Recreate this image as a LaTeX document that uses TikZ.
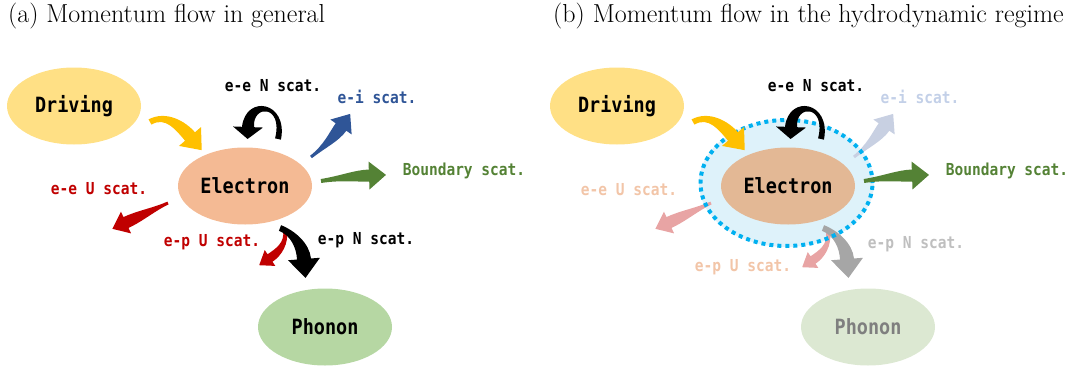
\documentclass[tikz,border=0pt]{standalone}
\usepackage{fontspec}
\usetikzlibrary{calc,shapes.geometric}
\newfontfamily\lbl[FakeStretch=0.88]{DejaVu Sans Mono}
\definecolor{drv}{HTML}{FFE085}
\definecolor{ele}{HTML}{F4BA94}
\definecolor{pho}{HTML}{B6D7A3}
\definecolor{eleB}{HTML}{E3B895}
\definecolor{phoB}{HTML}{DCE8D2}
\definecolor{phoTxtB}{HTML}{7F7F7F}
\definecolor{yel}{HTML}{FFC000}
\definecolor{blu}{HTML}{2F5597}
\definecolor{grn}{HTML}{548235}
\definecolor{rd}{HTML}{C00000}
\definecolor{paleblu}{HTML}{C8D0E2}
\definecolor{palebluTxt}{HTML}{C3D0E8}
\definecolor{pink}{HTML}{E8A4A4}
\definecolor{peach}{HTML}{F2C5A8}
\definecolor{grayA}{HTML}{A6A6A6}
\definecolor{grayTxt}{HTML}{BFBFBF}
\definecolor{cyanDot}{HTML}{00B0F0}
\definecolor{lightblue}{HTML}{DEF2FA}
% #1 style, #2 tail, #3 ctrl1, #4 ctrl2, #5 head base, #6 tail half-width,
% #7 shaft half-width at head, #8 head half-width, #9 head length
\newcommand\blockarrow[9]{%
  \path ($(#2)!#6!90:(#3)$) coordinate (ba-tl)
        ($(#2)!#6!-90:(#3)$) coordinate (ba-tr)
        ($(#2)!#6!90:(#4)$) coordinate (ba-ul)
        ($(#2)!#6!-90:(#4)$) coordinate (ba-ur)
        ($(#3)!#7!90:(#5)$) coordinate (ba-vl)
        ($(#3)!#7!-90:(#5)$) coordinate (ba-vr)
        ($(#5)!#7!-90:(#4)$) coordinate (ba-hl)
        ($(#5)!#7!90:(#4)$) coordinate (ba-hr)
        ($(#5)!#8!-90:(#4)$) coordinate (ba-kl)
        ($(#5)!#8!90:(#4)$) coordinate (ba-kr)
        ($(#5)!#9!180:(#4)$) coordinate (ba-tip);
  \fill[#1] (ba-tl) .. controls ($(#3)+(ba-ul)-(#2)$) and ($(#4)+(ba-vl)-(#3)$) .. (ba-hl)
     -- (ba-kl) -- (ba-tip) -- (ba-kr) -- (ba-hr)
     .. controls ($(#4)+(ba-vr)-(#3)$) and ($(#3)+(ba-ur)-(#2)$) .. (ba-tr) -- cycle;
}
\tikzset{
  ell/.style={ellipse, inner sep=0pt, minimum width=134pt, minimum height=77pt},
  big/.style={font=\lbl\bfseries\fontsize{21}{24}\selectfont},
  small/.style={font=\lbl\bfseries\fontsize{16.5}{19}\selectfont},
  ttl/.style={anchor=base west, inner sep=0pt, font=\fontsize{26}{30}\selectfont},
}
\begin{document}
\begin{tikzpicture}[x=1pt,y=-1pt]
\useasboundingbox (0,0) rectangle (1079,367);
% titles
\node[ttl] (ta) at (8,22) {(a) Momentum flow in general};
\node[ttl] (tb) at (553,22) {(b) Momentum flow in the hydrodynamic regime};

% ---------------- panel (a)
\node[ell, fill=ele, big] (eleA) at (245,186) {Electron};
\blockarrow{yel}{150,122}{166,113}{181,126}{190,136.5}{3pt}{6.5pt}{14.5pt}{18pt}
\blockarrow{black}{278,139}{286,103}{249,99}{248,127}{3pt}{6pt}{15pt}{12pt}
\blockarrow{blu}{311,157}{325,146}{334,137}{341,127}{1.5pt}{6.5pt}{13pt}{16pt}
\blockarrow{grn}{321,181}{340,178}{355,176}{369,175.5}{2pt}{6pt}{14pt}{17pt}
\blockarrow{rd}{168,203}{155,209}{140,216}{126,222.5}{1.5pt}{6pt}{12pt}{15pt}
\blockarrow{rd}{285,230}{287,243}{279,252}{270,258}{2pt}{4.5pt}{9.5pt}{13pt}
\blockarrow{black}{280,228}{293,233}{303,246}{304,259}{3pt}{7pt}{16pt}{19pt}
\node[ell, fill=drv, big] (drvA) at (74,106) {Driving};
\node[ell, fill=pho, big] (phoA) at (325,327) {Phonon};
\node[small] (eeNA) at (273,86) {e-e N scat.};
\node[small, text=blu] (eiA) at (377,97) {e-i scat.};
\node[small, text=grn] (bdA) at (464,171) {Boundary scat.};
\node[small, text=rd] (eeUA) at (99,189) {e-e U scat.};
\node[small, text=rd] (epUA) at (212,242) {e-p U scat.};
\node[small] (epNA) at (366,240) {e-p N scat.};

% ---------------- panel (b)
\node[ellipse, fill=lightblue, inner sep=0pt, minimum width=175pt, minimum height=128pt] (hyd) at (786.5,183) {};
\node[ell, fill=eleB, big] (eleB) at (788,186) {Electron};
\begin{scope}[xshift=543pt]
\blockarrow{paleblu}{311,157}{325,146}{334,137}{341,127}{1.5pt}{6.5pt}{13pt}{16pt}
\blockarrow{pink}{168,203}{155,209}{140,216}{126,222.5}{1.5pt}{6pt}{12pt}{15pt}
\blockarrow{pink}{285,232}{287,245}{279,254}{270,260}{2pt}{4.5pt}{9.5pt}{13pt}
\blockarrow{grayA}{280,228}{293,233}{303,246}{304,259}{3pt}{7pt}{16pt}{19pt}
\end{scope}
\draw[cyanDot, line width=4pt, dash pattern=on 4pt off 4pt] (hyd.center) ellipse [x radius=86pt, y radius=63pt];
\begin{scope}[xshift=543pt]
\blockarrow{yel}{150,122}{166,113}{181,126}{190,136.5}{3pt}{6.5pt}{14.5pt}{18pt}
\blockarrow{black}{278,139}{286,103}{249,99}{248,127}{3pt}{6pt}{15pt}{12pt}
\blockarrow{grn}{321,181}{340,178}{355,176}{369,175.5}{2pt}{6pt}{14pt}{17pt}
\end{scope}
\node[ell, fill=drv, big] (drvB) at (617,106) {Driving};
\node[ell, fill=phoB, big, text=phoTxtB] (phoB) at (868,327) {Phonon};
\node[small] (eeNB) at (816,86) {e-e N scat.};
\node[small, text=palebluTxt] (eiB) at (920,97) {e-i scat.};
\node[small, text=grn] (bdB) at (1007,171) {Boundary scat.};
\node[small, text=peach] (eeUB) at (629,190) {e-e U scat.};
\node[small, text=peach] (epUB) at (743,267) {e-p U scat.};
\node[small, text=grayTxt] (epNB) at (916,244) {e-p N scat.};
\end{tikzpicture}
\end{document}
